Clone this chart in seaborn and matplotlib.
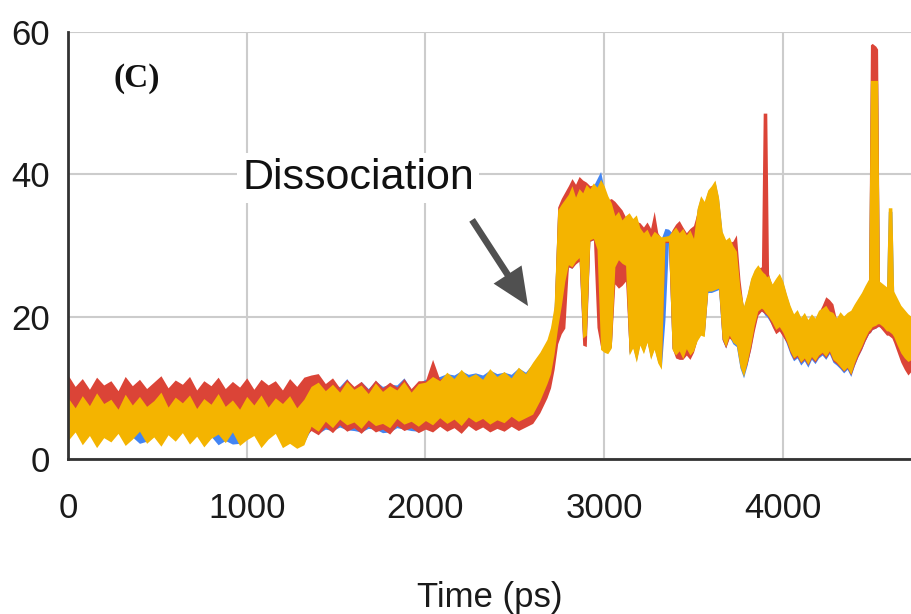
import matplotlib
matplotlib.use("Agg")
import matplotlib.pyplot as plt
import pandas as pd
import seaborn as sns

# Sample times (ps): 40 ps steps before the transition, 20 ps afterwards
time_ps = list(range(0, 2700, 40)) + [
    2700, 2720, 2740, 2760, 2780, 2800, 2820, 2840, 2860, 2880,
    2900, 2920, 2940, 2960, 2980, 3000, 3020, 3040, 3060, 3080,
    3100, 3120, 3140, 3160, 3180, 3200, 3220, 3240, 3260, 3280,
    3300, 3320, 3340, 3360, 3380, 3400, 3420, 3440, 3460, 3480,
    3500, 3520, 3540, 3560, 3580, 3600, 3620, 3640, 3660, 3680,
    3700, 3720, 3740, 3760, 3780, 3800, 3820, 3840, 3860, 3880,
    3890, 3900, 3910, 3920, 3940, 3960, 3980, 4000, 4020, 4040,
    4060, 4080, 4100, 4120, 4140, 4160, 4180, 4200, 4220, 4240,
    4260, 4280, 4300, 4320, 4340, 4360, 4380, 4400, 4420, 4440,
    4460, 4480, 4490, 4500, 4520, 4530, 4540, 4560, 4580, 4590,
    4600, 4610, 4620, 4640, 4660, 4680, 4700, 4720,
]

# Fluctuation range (min / max distance) of each replica at every sample time
blue_low = [
    2.9, 4.1, 2.3, 3.6, 1.9, 3.3, 2.7, 3.9, 2.2, 3.1, 2.2, 2.5, 3.4, 2.1, 3.7, 2.8, 4.0,
    2.4, 3.5, 2.0, 3.2, 2.0, 2.6, 2.1, 2.2, 3.0, 3.6, 1.9, 3.1, 3.9, 1.9, 2.5, 1.8, 2.3,
    4.2, 3.6, 4.2, 4.0, 4.5, 4.1, 4.0, 3.8, 4.3, 4.2, 3.7, 3.8, 4.4, 4.2, 4.0, 3.9,
    4.6, 4.2, 4.9, 4.4, 4.8, 4.1, 5.0, 4.5, 4.9, 4.3, 4.7, 4.4, 5.1, 4.6, 5.0, 5.6, 7.2, 9.4,
    11.0, 13.8, 17.6, 20.6, 24.0, 27.0, 26.8, 27.6, 28.0, 16.8,
    17.2, 30.6, 30.8, 29.2, 15.6, 15.2, 15.0, 15.8, 26.6, 27.6,
    27.2, 27.0, 14.8, 15.8, 13.8, 16.2, 15.0, 16.6, 14.2, 15.6,
    13.7, 12.8, 19.5, 30.2, 15.6, 14.8, 15.4, 14.3, 15.7, 14.8,
    15.4, 16.8, 17.6, 17.4, 23.4, 23.4, 23.6, 23.8, 16.8, 15.6,
    17.2, 16.2, 15.8, 12.8, 11.4, 13.2, 15.6, 18.4, 20.4, 20.8,
    20.6, 20.2, 20.0, 19.6, 18.8, 17.8, 18.1, 17.4, 16.2, 14.8,
    13.8, 14.2, 13.2, 13.8, 12.9, 14.0, 13.4, 14.2, 14.6, 14.0,
    14.8, 13.6, 13.2, 12.7, 12.1, 12.6, 11.6, 13.1, 14.4, 15.4,
    16.6, 17.6, 17.8, 18.2, 18.4, 18.6, 18.6, 18.2, 17.6, 17.6,
    17.4, 17.2, 16.8, 15.4, 14.2, 13.2, 12.6, 13.0,
]
blue_high = [
    9.0, 8.2, 9.4, 8.0, 9.6, 8.3, 8.8, 7.9, 9.5, 8.1, 9.2, 7.8, 8.7, 9.7, 7.9, 9.1, 8.3,
    9.3, 7.6, 8.9, 8.1, 9.5, 7.8, 8.6, 7.5, 9.2, 8.0, 9.4, 7.7, 9.0, 8.2, 9.3, 7.6, 8.8,
    10.0, 10.5, 10.3, 10.2, 10.2, 11.3, 9.6, 10.9, 9.9, 11.0, 10.2, 10.5, 10.4, 11.4, 9.8, 10.7,
    11.2, 11.4, 11.6, 12.0, 11.8, 12.4, 11.9, 12.1, 11.8, 12.5, 12.0, 12.2, 11.9, 12.8, 12.2,
    13.4, 14.8, 16.5,
    18.0, 21.0, 34.8, 35.4, 36.2, 37.0, 38.0, 36.6, 37.6, 37.0,
    38.2, 37.6, 38.4, 39.4, 40.4, 38.0, 36.6, 35.6, 34.0, 34.4,
    33.2, 33.8, 34.2, 33.4, 33.8, 32.2, 31.6, 32.0, 31.0, 31.8,
    31.4, 31.0, 32.4, 32.3, 31.8, 32.4, 31.6, 32.2, 31.3, 32.0,
    30.8, 35.0, 36.8, 36.0, 37.6, 38.2, 39.0, 36.6, 31.8, 30.6,
    31.0, 29.8, 29.0, 23.8, 21.3, 23.0, 25.2, 26.4, 27.1, 26.3,
    26.0, 25.8, 25.4, 25.6, 24.4, 25.2, 25.9, 24.8, 23.0, 21.4,
    20.2, 20.8, 19.7, 20.4, 19.4, 20.2, 19.6, 20.7, 21.0, 21.4,
    20.6, 20.4, 19.6, 20.5, 19.9, 20.4, 20.7, 21.6, 22.4, 23.2,
    24.2, 25.1, 52.8, 52.8, 52.8, 52.8, 24.8, 24.4, 24.0, 34.8,
    34.8, 34.8, 23.4, 22.4, 21.4, 20.8, 20.2, 19.8,
]
red_low = [
    3.2, 4.1, 2.9, 3.8, 2.7, 3.6, 3.1, 4.0, 2.8, 3.5, 4.2, 3.0, 3.7, 2.9, 3.9, 3.3, 4.1,
    3.0, 3.6, 2.8, 3.4, 4.0, 3.1, 4.2, 2.9, 3.5, 3.8, 2.7, 3.4, 4.0, 3.0, 3.3, 3.9, 3.1,
    4.0, 3.4, 4.5, 3.7, 4.8, 3.9, 4.4, 3.6, 4.6, 3.8, 4.2, 3.5, 4.7, 4.0, 4.4, 3.7,
    4.2, 3.8, 4.6, 3.9, 4.4, 3.6, 4.7, 4.0, 4.5, 3.8, 4.3, 3.9, 4.6, 4.0, 4.5, 5.0, 6.5, 8.6,
    10.0, 12.6, 16.2, 17.6, 18.4, 27.0, 26.8, 27.4, 27.8, 16.0,
    15.8, 30.6, 30.8, 18.5, 15.8, 15.4, 15.2, 15.8, 24.6, 24.0,
    24.4, 25.0, 15.0, 15.8, 14.2, 16.4, 15.2, 16.6, 14.6, 15.8,
    14.0, 13.2, 30.4, 30.4, 15.6, 14.2, 14.0, 14.0, 14.6, 14.0,
    15.0, 16.8, 17.8, 17.6, 23.8, 24.0, 24.2, 24.4, 16.8, 15.6,
    17.0, 16.6, 16.4, 13.4, 12.0, 13.4, 15.4, 18.0, 20.2, 20.8,
    20.6, 20.4, 20.2, 19.8, 18.6, 17.6, 18.0, 17.2, 16.4, 15.0,
    14.0, 14.4, 13.5, 14.0, 13.2, 14.2, 13.6, 14.4, 14.8, 14.2,
    15.0, 13.8, 13.4, 12.9, 12.3, 12.8, 11.8, 13.2, 14.4, 15.4,
    16.6, 17.6, 17.8, 18.2, 18.4, 18.6, 18.6, 18.0, 17.4, 17.4,
    17.2, 17.0, 16.4, 15.0, 13.6, 12.6, 11.8, 12.4,
]
red_high = [
    11.8, 10.2, 11.3, 9.8, 11.5, 10.4, 11.0, 9.6, 11.6, 10.3, 11.2, 9.9, 10.8, 11.7, 10.0,
    11.1, 10.5, 11.6, 9.7, 11.0, 10.3, 11.5, 9.9, 10.9, 10.1, 11.4, 9.8, 11.2, 10.4, 11.0,
    9.7, 11.3, 10.2, 11.5,
    11.8, 12.0, 10.6, 11.4, 10.0, 11.2, 10.2, 10.9, 9.8, 11.1, 10.0, 10.8, 10.1, 11.3, 9.9, 11.0,
    11.0, 14.0, 11.2, 11.8, 11.0, 12.0, 11.2, 11.6, 11.0, 12.2, 11.3, 11.8, 11.0, 12.3, 11.6,
    12.8, 14.2, 16.0,
    17.8, 20.5, 35.4, 36.6, 37.5, 38.4, 39.4, 38.6, 39.7, 39.2,
    38.9, 38.4, 38.5, 38.0, 38.6, 37.6, 36.4, 36.6, 36.2, 35.6,
    35.0, 34.0, 33.8, 33.0, 33.4, 33.2, 32.6, 33.3, 32.4, 34.8,
    31.8, 31.0, 31.2, 31.0, 32.2, 33.0, 33.5, 32.6, 31.8, 32.4,
    32.8, 34.6, 36.2, 35.6, 37.0, 37.8, 38.0, 36.0, 31.2, 30.4,
    30.4, 30.6, 31.5, 25.2, 21.0, 22.6, 24.8, 26.0, 26.8, 27.0,
    48.6, 48.6, 48.6, 26.0, 24.2, 25.0, 25.4, 24.6, 22.8, 21.2,
    20.2, 20.6, 19.6, 20.2, 19.4, 20.0, 19.6, 20.6, 21.6, 22.8,
    22.4, 21.8, 19.6, 20.4, 19.9, 20.2, 20.5, 21.4, 22.2, 23.0,
    24.0, 25.0, 58.2, 58.4, 58.0, 57.6, 24.8, 24.2, 23.8, 24.0,
    24.2, 24.0, 23.2, 22.2, 21.2, 20.6, 20.0, 19.6,
]
yellow_low = [
    2.6, 3.8, 2.0, 3.3, 1.6, 3.0, 2.4, 3.6, 1.9, 2.8, 3.9, 2.2, 3.1, 1.8, 3.4, 2.5, 3.7,
    2.1, 3.2, 1.7, 2.9, 3.5, 2.3, 3.8, 1.9, 2.7, 3.3, 1.6, 2.8, 3.6, 1.6, 2.2, 1.5, 2.0,
    4.6, 3.9, 5.3, 4.4, 5.6, 4.8, 5.2, 4.3, 5.5, 4.7, 5.0, 4.4, 5.7, 4.9, 5.3, 4.6,
    5.4, 4.8, 5.8, 5.0, 5.6, 4.7, 5.9, 5.2, 5.7, 4.9, 5.5, 5.1, 6.0, 5.3, 5.8, 6.3, 8.2, 10.6,
    12.0, 14.8, 18.5, 21.5, 25.0, 27.3, 27.0, 27.8, 28.3, 17.0,
    17.4, 30.8, 31.0, 29.5, 15.4, 15.0, 14.8, 15.6, 27.0, 28.0,
    27.5, 27.2, 14.6, 15.6, 13.6, 16.0, 14.8, 16.4, 14.0, 15.4,
    13.5, 12.6, 30.6, 30.6, 15.4, 14.6, 15.2, 14.1, 15.5, 14.6,
    15.2, 16.6, 17.4, 17.2, 23.6, 23.6, 23.8, 24.0, 17.0, 15.8,
    17.4, 16.4, 16.0, 13.0, 11.6, 13.6, 16.0, 18.8, 20.8, 21.2,
    21.0, 20.6, 20.3, 20.0, 19.2, 18.2, 18.6, 17.8, 16.6, 15.2,
    14.2, 14.6, 13.6, 14.2, 13.3, 14.4, 13.8, 14.6, 15.0, 14.4,
    15.2, 14.0, 13.6, 13.0, 12.4, 12.9, 11.9, 13.5, 14.8, 15.8,
    17.0, 18.0, 18.2, 18.6, 18.8, 19.0, 19.0, 18.6, 18.0, 18.0,
    17.8, 17.6, 17.2, 16.0, 14.9, 14.2, 13.7, 14.0,
]
yellow_high = [
    8.6, 7.2, 8.9, 7.5, 9.3, 7.8, 8.4, 7.0, 9.1, 7.6, 8.8, 7.4, 8.2, 9.4, 7.3, 8.7, 7.9,
    9.0, 7.1, 8.5, 7.7, 9.2, 7.4, 8.3, 7.0, 8.8, 7.6, 9.0, 7.3, 8.6, 7.8, 8.9, 7.2, 8.4,
    10.2, 10.8, 9.6, 10.5, 9.4, 10.9, 9.8, 10.4, 9.2, 10.7, 9.5, 10.3, 9.7, 10.9, 9.4, 10.6,
    10.8, 11.6, 11.0, 12.2, 11.3, 12.6, 11.5, 12.0, 11.2, 12.7, 11.6, 12.3, 11.4, 12.9, 12.0,
    13.6, 15.0, 16.8,
    18.5, 21.5, 35.0, 35.8, 36.5, 37.2, 38.4, 36.8, 38.0, 37.4,
    38.6, 38.0, 38.8, 38.2, 39.3, 38.4, 37.0, 36.0, 34.2, 34.8,
    33.6, 34.2, 34.6, 33.8, 34.3, 32.5, 31.8, 32.3, 31.2, 32.0,
    31.6, 31.2, 31.3, 31.4, 32.0, 32.6, 31.8, 32.4, 31.5, 32.2,
    31.0, 35.2, 37.0, 36.2, 37.8, 38.4, 39.2, 36.8, 32.0, 30.8,
    31.2, 30.0, 29.2, 24.0, 21.5, 23.2, 25.4, 26.6, 27.3, 26.5,
    26.2, 26.0, 25.6, 25.8, 24.6, 25.4, 26.1, 25.0, 23.2, 21.6,
    20.4, 21.0, 19.9, 20.6, 19.6, 20.4, 19.8, 20.9, 21.2, 21.6,
    20.8, 20.6, 19.8, 20.7, 20.1, 20.6, 20.9, 21.8, 22.6, 23.4,
    24.4, 25.3, 53.2, 53.2, 53.2, 53.2, 25.0, 24.6, 24.2, 35.3,
    35.3, 35.3, 23.6, 22.6, 21.6, 21.0, 20.4, 20.0,
]

series_names = ["Replica 1", "Replica 2", "Replica 3"]
series_colors = ["#4285F4", "#DB4437", "#F4B400"]
x_ticks = [0, 1000, 2000, 3000, 4000]
y_ticks = [0, 20, 40, 60]

# Long-format table: two observations (min and max) per series and time
rows = []
for name, lows, highs in zip(series_names,
                             [blue_low, red_low, yellow_low],
                             [blue_high, red_high, yellow_high]):
    for t, lo, hi in zip(time_ps, lows, highs):
        rows.append((name, t, lo))
        rows.append((name, t, hi))
df = pd.DataFrame(rows, columns=["series", "time", "distance"])

sns.set_theme(style="whitegrid")
plt.rcParams["font.family"] = ["Liberation Sans", "DejaVu Sans"]

fig = plt.figure(figsize=(9.11, 6.14), dpi=100)
ax = fig.add_axes([68 / 911, 155 / 614, 843 / 911, 427 / 614])

# Each replica drawn as a solid band spanning its min-max fluctuation
sns.lineplot(
    data=df, x="time", y="distance", hue="series",
    hue_order=series_names, palette=series_colors,
    estimator="median", errorbar=("pi", 100),
    err_kws={"alpha": 1.0, "linewidth": 0},
    linewidth=0, legend=False, ax=ax,
)

ax.set_xlim(0, 4717)
ax.set_ylim(0, 60)
ax.set_xticks(x_ticks)
ax.set_yticks(y_ticks)
ax.set_xlabel("")
ax.set_ylabel("")
ax.set_axisbelow(True)
ax.grid(True, color="#cccccc", linewidth=1.5)
ax.set_facecolor("white")
for side in ("top", "right"):
    ax.spines[side].set_visible(False)
for side in ("left", "bottom"):
    ax.spines[side].set_visible(True)
    ax.spines[side].set_color("#333333")
    ax.spines[side].set_linewidth(2.0)
ax.tick_params(axis="both", length=0, labelsize=25, colors="#1a1a1a")
ax.tick_params(axis="x", pad=24)
ax.tick_params(axis="y", pad=13)

fig.text(489.5 / 911, 1 - 597 / 614, "Time (ps)", ha="center", va="center",
         fontsize=25, color="#1a1a1a")

ax.text(252, 52.3, "(C)", fontsize=24, fontweight="bold",
        family=["Liberation Serif", "DejaVu Serif"], va="baseline", ha="left",
        color="#111111")

ax.text(974, 37.9, "Dissociation", fontsize=31, va="baseline", ha="left",
        color="#111111",
        bbox=dict(boxstyle="square,pad=0.12", facecolor="white", edgecolor="none"))

ax.annotate(
    "", xy=(2574, 21.5), xytext=(2261, 33.6),
    arrowprops=dict(arrowstyle="simple,head_length=0.9,head_width=0.8,tail_width=0.16",
                    mutation_scale=30, facecolor="#505050", edgecolor="none",
                    shrinkA=0, shrinkB=0),
)

fig.savefig("out.png", dpi=100)
